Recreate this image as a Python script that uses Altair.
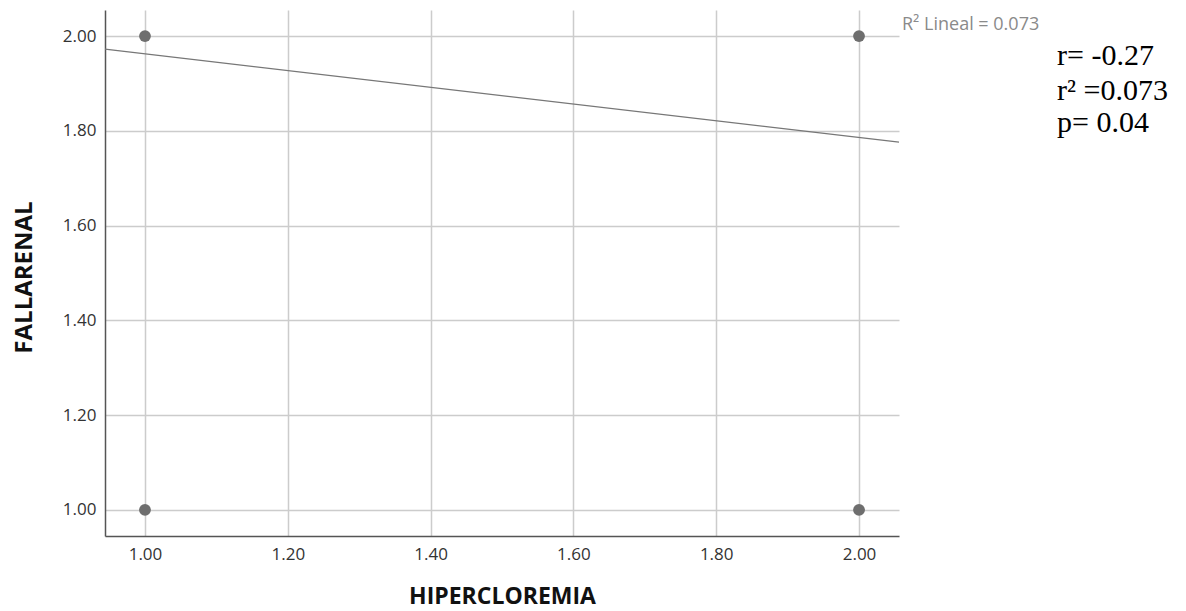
import altair as alt
import pandas as pd

# data
px = [1.0, 1.0, 2.0, 2.0]
py = [2.0, 1.0, 2.0, 1.0]
fit_x = [0.944, 2.056]
fit_y = [1.9725, 1.776]
x_ticks = [1.0, 1.2, 1.4, 1.6, 1.8, 2.0]
y_ticks = [1.0, 1.2, 1.4, 1.6, 1.8, 2.0]
stats_lines = ["r= -0.27", "r\u00b2 =0.073", "p= 0.04"]
stats_baselines = [55, 90, 122]
r2_label = "R\u00b2  Lineal = 0.073"

W, H = 794, 526
pts = pd.DataFrame({"x": px, "y": py})
fit = pd.DataFrame({"x": fit_x, "y": fit_y})

xs = alt.Scale(domain=[0.944, 2.056], nice=False, zero=False)
ys = alt.Scale(domain=[0.945, 2.055], nice=False, zero=False)

xax = alt.Axis(values=x_ticks, format=".2f", title="HIPERCLOREMIA", grid=True,
               gridColor="#cccccc", gridWidth=1.5, domainColor="#555555", domainWidth=1.5,
               ticks=False, labelPadding=10, labelFont="Open Sans", labelFontSize=17,
               labelColor="#333333", titleFont="Open Sans", titleFontSize=23,
               titleFontWeight="bold", titleColor="#111111", titleX=W / 2, titleY=67,
               titleBaseline="alphabetic", titleAlign="center")
yax = alt.Axis(values=y_ticks, format=".2f", title="FALLARENAL", grid=True,
               gridColor="#cccccc", gridWidth=1.5, domainColor="#555555", domainWidth=1.5,
               ticks=False, labelPadding=9, labelFont="Open Sans", labelFontSize=17,
               labelColor="#333333", titleFont="Open Sans", titleFontSize=24,
               titleFontWeight="bold", titleColor="#111111", titleX=-81, titleY=267,
               titleAngle=270, titleBaseline="middle", titleAlign="center")

base_pts = alt.Chart(pts).mark_circle(size=140, color="#6e6e6e", opacity=1).encode(
    x=alt.X("x:Q", scale=xs, axis=xax),
    y=alt.Y("y:Q", scale=ys, axis=yax),
)
line = alt.Chart(fit).mark_line(color="#777777", strokeWidth=1.2).encode(
    x=alt.X("x:Q", scale=xs), y=alt.Y("y:Q", scale=ys)
)
r2 = alt.Chart(pd.DataFrame({"t": [r2_label]})).mark_text(
    align="left", baseline="alphabetic", font="Open Sans", fontSize=18, color="#8a8a8a"
).encode(x=alt.value(797), y=alt.value(20), text="t:N")

stat_layers = []
for s, yb in zip(stats_lines, stats_baselines):
    stat_layers.append(
        alt.Chart(pd.DataFrame({"t": [s]})).mark_text(
            align="left", baseline="alphabetic", font="Liberation Serif", fontSize=30,
            color="#000000"
        ).encode(x=alt.value(952), y=alt.value(yb), text="t:N")
    )

chart = alt.layer(line, base_pts, r2, *stat_layers).properties(
    width=W, height=H,
    autosize=alt.AutoSizeParams(type="none"),
    padding={"left": 105, "top": 10, "right": 1186 - 105 - W, "bottom": 611 - 10 - H},
).configure(background="white", view=alt.ViewConfig(stroke="transparent", strokeWidth=0))

chart.save("out.html", embed_options={"renderer": "svg", "actions": False})
